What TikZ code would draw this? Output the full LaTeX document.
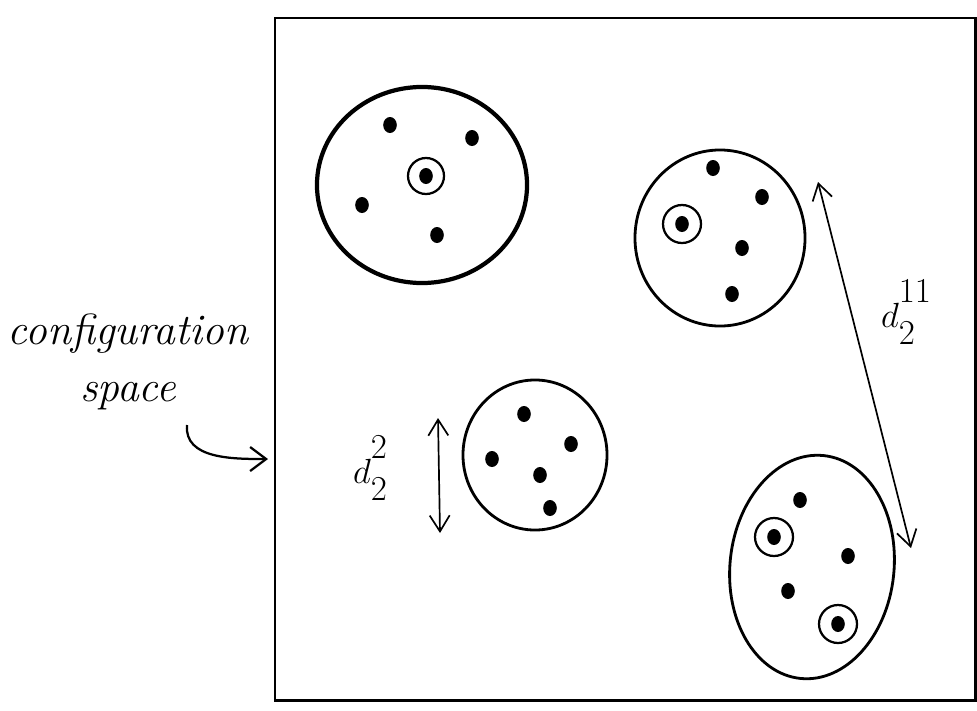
\documentclass[tikz,border=0pt]{standalone}
\usetikzlibrary{positioning,arrows.meta,shapes.geometric}
\newcommand{\dlab}[2]{$d\rlap{\raisebox{1.1ex}{$\scriptstyle #1$}}\raisebox{-0.7ex}{$\scriptstyle #2$}$}
\tikzset{
  cluster/.style={ellipse, draw, line width=2pt, inner sep=0pt},
  pt/.style={ellipse, fill, inner sep=0pt, minimum width=0.34cm, minimum height=0.4cm},
  ring/.style={circle, draw, line width=1.6pt, inner sep=0pt, minimum size=0.95cm},
  dist/.style={{Straight Barb[length=4mm,width=5mm]}-{Straight Barb[length=4mm,width=5mm]}, line width=1.2pt},
  flow/.style={-{Straight Barb[length=4mm,width=6mm]}, line width=1.6pt},
  hand/.style={font=\fontsize{31}{40}\selectfont\itshape, align=center, inner sep=0pt},
  dl/.style={font=\fontsize{38}{40}\selectfont, inner sep=0pt}
}
\begin{document}
\begin{tikzpicture}[x=0.025cm,y=-0.025cm]
\useasboundingbox (0,0) rectangle (977,710);
% configuration space
\node[draw, line width=2pt, minimum width=17.5cm, minimum height=17.05cm] (cs) at (625,359) {};
\node[hand] (lbl) at (128,362) {configuration\\space};
\coordinate (lblend) at (187,425);
\coordinate (cstip) at (268,459);
\draw[flow] (lblend) to[out=-95,in=180] (cstip);
% clusters
\node[cluster, line width=3pt, minimum width=5.25cm, minimum height=4.9cm] (ca) at (422,185) {};
\node[cluster, minimum width=4.25cm, minimum height=4.4cm] (cb) at (720,238) {};
\node[cluster, minimum width=3.6cm, minimum height=3.75cm] (cc) at (535,455) {};
\node[cluster, rotate=-6, minimum width=4.1cm, minimum height=5.6cm] (cd) at (812,567) {};
% points
\foreach \x/\y [count=\i] in {390/125, 472/138, 362/205, 437/235, 426/176}
  \node[pt] (a\i) at (\x,\y) {};
\foreach \x/\y [count=\i] in {713/168, 762/197, 742/248, 732/294, 682/224}
  \node[pt] (b\i) at (\x,\y) {};
\foreach \x/\y [count=\i] in {524/414, 571/444, 492/459, 540/475, 550/508}
  \node[pt] (c\i) at (\x,\y) {};
\foreach \x/\y [count=\i] in {800/500, 788/591, 774/537, 848/556, 838/624}
  \node[pt] (d\i) at (\x,\y) {};
\node[ring, minimum size=0.9cm] (ra) at (a5) {};
\node[ring] (rb) at (b5) {};
\node[ring] (rd1) at (d3) {};
\node[ring] (rd2) at (d5) {};
% distances
\coordinate (p1) at (818,182);
\coordinate (p2) at (911,548);
\draw[dist] (p1) -- (p2);
\node[dl] (l1) at (898,312) {\dlab{11}{2}};
\coordinate (q1) at (438,418);
\coordinate (q2) at (440,533);
\draw[dist] (q1) -- (q2);
\node[dl] (l2) at (370,468) {\dlab{2}{2}};
\end{tikzpicture}
\end{document}
